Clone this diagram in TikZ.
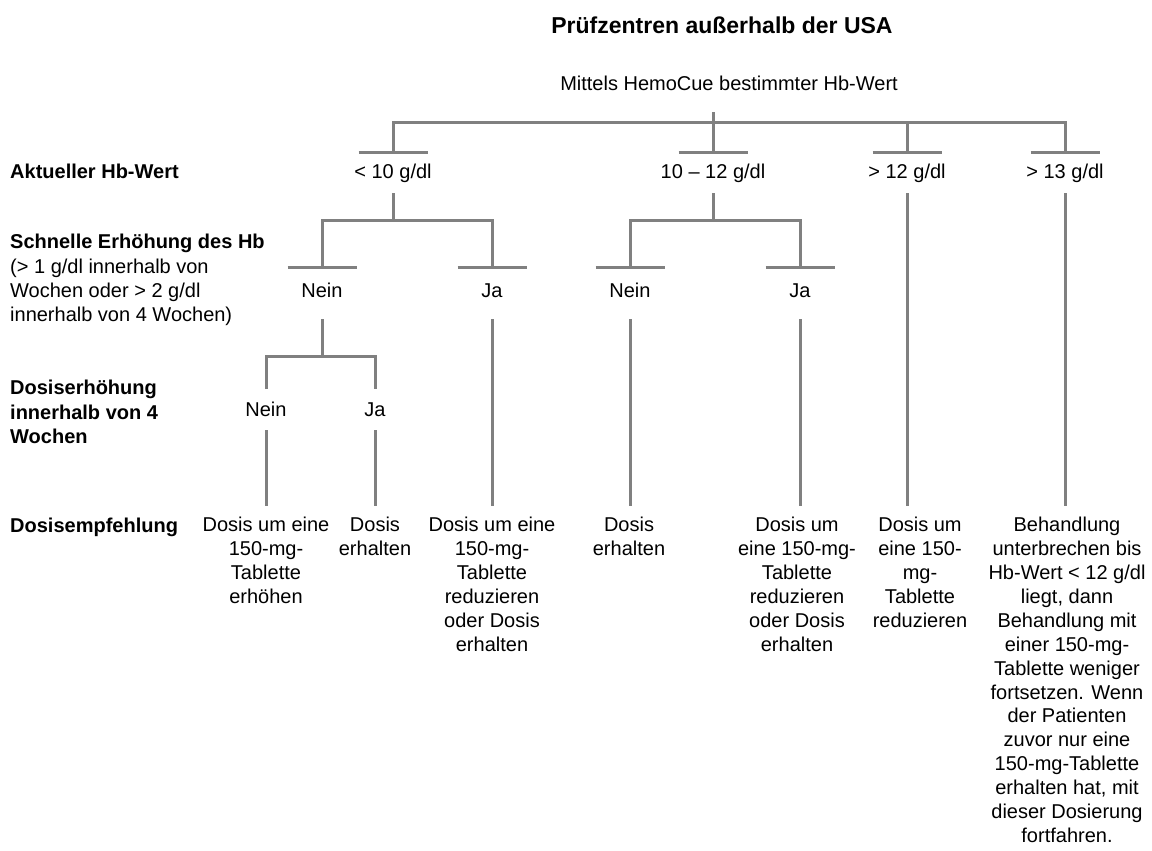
\documentclass[tikz,border=0pt]{standalone}
\usepackage{fontspec}
\setmainfont{Liberation Sans}
\definecolor{cline}{HTML}{808080}

\begin{document}
\begin{tikzpicture}[x=1pt, y=-1pt,
  txt/.style={inner sep=0pt, font=\fontsize{20}{24.3}\selectfont, align=center},
  val/.style={txt, text height=14pt, text depth=4pt},
  head/.style={txt, anchor=west, align=left},
  rec/.style={txt, font=\fontsize{20}{23.9}\selectfont, anchor=north},
  tree/.style={draw=cline, line width=3pt}]
  \useasboundingbox (0,0) rectangle (1152,851);

  % title and root
  \node[txt, font=\fontsize{23}{28}\selectfont\bfseries] (title) at (722,25) {Prüfzentren außerhalb der USA};
  \node[val] (root) at (729,86) {Mittels HemoCue bestimmter Hb-Wert};

  % row headings
  \node[val, anchor=west] (hAkt) at (10,173) {\textbf{Aktueller Hb-Wert}};
  \node[head] (hSchnell) at (10,280) {\textbf{Schnelle Erhöhung des Hb}\\(> 1 g/dl innerhalb von\\Wochen oder > 2 g/dl\\innerhalb von 4 Wochen)};
  \node[head] (hDosis) at (10,412) {\textbf{Dosiserhöhung}\\\textbf{innerhalb von 4}\\\textbf{Wochen}};
  \node[val, anchor=west] (hEmpf) at (10,527) {\textbf{Dosisempfehlung}};

  % current Hb value
  \node[val] (lt10) at (393,173) {< 10 g/dl};
  \node[val] (mid) at (713,173) {10 – 12 g/dl};
  \node[val] (gt12) at (907,173) {> 12 g/dl};
  \node[val] (gt13) at (1065,173) {> 13 g/dl};

  % fast rise
  \node[val] (aNein) at (322,292) {Nein};
  \node[val] (aJa) at (492,292) {Ja};
  \node[val] (bNein) at (630,292) {Nein};
  \node[val] (bJa) at (800,292) {Ja};

  % dose increase
  \node[val] (cNein) at (266,411) {Nein};
  \node[val] (cJa) at (375,411) {Ja};

  % recommendations
  \node[rec] (r1) at (266,517) {Dosis um eine\\150-mg-\\Tablette\\erhöhen};
  \node[rec] (r2) at (375,517) {Dosis\\erhalten};
  \node[rec] (r3) at (492,517) {Dosis um eine\\150-mg-\\Tablette\\reduzieren\\oder Dosis\\erhalten};
  \node[rec] (r4) at (629,517) {Dosis\\erhalten};
  \node[rec] (r5) at (797,517) {Dosis um\\eine 150-mg-\\Tablette\\reduzieren\\oder Dosis\\erhalten};
  \node[rec] (r6) at (920,517) {Dosis um\\eine 150-\\mg-\\Tablette\\reduzieren};
  \node[rec] (r7) at (1067,517) {Behandlung\\unterbrechen bis\\Hb-Wert < 12 g/dl\\liegt, dann\\Behandlung mit\\einer 150-mg-\\Tablette weniger\\fortsetzen. Wenn\\der Patienten\\zuvor nur eine\\150-mg-Tablette\\erhalten hat, mit\\dieser Dosierung\\fortfahren.};

  % tree
  \coordinate (stub) at (713,112);
  \coordinate (fork0) at (713,122);
  \coordinate (forkA) at (393,220);
  \coordinate (forkB) at (713,220);
  \coordinate (forkC) at (322,356);
  \coordinate (low) at (0,506);

  \foreach \n in {lt10,mid,gt12,gt13}
    \draw[tree] ([shift={(-34.5pt,21pt)}]\n.center) -- ([shift={(34.5pt,21pt)}]\n.center);
  \foreach \n in {aNein,aJa,bNein,bJa}
    \draw[tree] ([shift={(-34.5pt,25pt)}]\n.center) -- ([shift={(34.5pt,25pt)}]\n.center);

  \draw[tree] (stub) -- ([yshift=21pt]mid.center);
  \draw[tree] ([yshift=21pt]lt10.center) -- (lt10 |- fork0) -- (gt13 |- fork0) -- ([yshift=21pt]gt13.center);
  \draw[tree] (fork0 -| gt12) -- ([yshift=21pt]gt12.center);

  \draw[tree] ([yshift=-20pt]lt10.center) -- (forkA);
  \draw[tree] ([yshift=25pt]aNein.center) -- (aNein |- forkA) -- (aJa |- forkA) -- ([yshift=25pt]aJa.center);
  \draw[tree] ([yshift=-20pt]mid.center) -- (forkB);
  \draw[tree] ([yshift=25pt]bNein.center) -- (bNein |- forkB) -- (bJa |- forkB) -- ([yshift=25pt]bJa.center);

  \draw[tree] ([yshift=-27pt]aNein.center) -- (forkC);
  \draw[tree] ([yshift=22pt]cNein.center) -- (cNein |- forkC) -- (cJa |- forkC) -- ([yshift=22pt]cJa.center);

  \foreach \n in {cNein,cJa}
    \draw[tree] ([yshift=-19pt]\n.center) -- (\n |- low);
  \foreach \n in {aJa,bNein,bJa}
    \draw[tree] ([yshift=-27pt]\n.center) -- (\n |- low);
  \foreach \n in {gt12,gt13}
    \draw[tree] ([yshift=-20pt]\n.center) -- (\n |- low);
\end{tikzpicture}
\end{document}
